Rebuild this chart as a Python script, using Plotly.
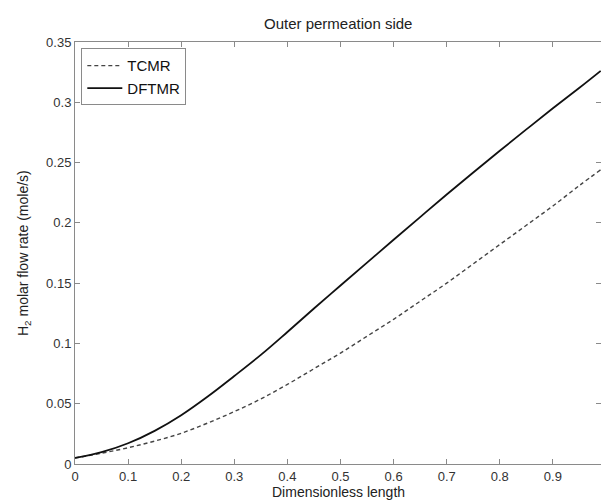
import plotly.graph_objects as go

x_vals = [0, 0.05, 0.1, 0.15, 0.2, 0.25, 0.3, 0.35, 0.4, 0.45, 0.5, 0.55, 0.6, 0.65, 0.7, 0.75, 0.8, 0.85, 0.9, 0.95, 0.99]
tcmr = [0.005, 0.009, 0.0135, 0.019, 0.0255, 0.034, 0.0435, 0.054, 0.066, 0.079, 0.092, 0.106, 0.120, 0.135, 0.150, 0.166, 0.182, 0.198, 0.214, 0.231, 0.244]
dftmr = [0.005, 0.0098, 0.0172, 0.0275, 0.0405, 0.056, 0.073, 0.0905, 0.1095, 0.129, 0.148, 0.167, 0.186, 0.2048, 0.2235, 0.2418, 0.2598, 0.2775, 0.295, 0.312, 0.326]

x_ticks = [0, 0.1, 0.2, 0.3, 0.4, 0.5, 0.6, 0.7, 0.8, 0.9]
x_tick_text = ["0", "0.1", "0.2", "0.3", "0.4", "0.5", "0.6", "0.7", "0.8", "0.9"]
y_ticks = [0, 0.05, 0.1, 0.15, 0.2, 0.25, 0.3, 0.35]
y_tick_text = ["0", "0.05", "0.1", "0.15", "0.2", "0.25", "0.3", "0.35"]

W, H = 601, 501
L, R, T, B = 75, 0, 42, 37

fig = go.Figure()
fig.add_trace(go.Scatter(x=x_vals, y=tcmr, mode="lines", name="TCMR",
                         line=dict(color="#444444", width=1.4, dash="4px,3px", shape="spline")))
fig.add_trace(go.Scatter(x=x_vals, y=dftmr, mode="lines", name="DFTMR",
                         line=dict(color="#111111", width=1.8, shape="spline")))

axis_common = dict(showgrid=False, zeroline=False, showline=True, linecolor="#8a8a8a",
                   linewidth=1, mirror="ticks", ticks="inside", ticklen=5, tickcolor="#8a8a8a",
                   tickfont=dict(family="Liberation Sans, Arial", size=13, color="#333333"))

fig.update_layout(
    width=W, height=H,
    margin=dict(l=L, r=R, t=T, b=B),
    paper_bgcolor="white", plot_bgcolor="white",
    font=dict(family="Liberation Sans, Arial", size=12, color="#222222"),
    xaxis=dict(range=[0, 0.9906], tickvals=x_ticks, ticktext=x_tick_text, **axis_common),
    yaxis=dict(range=[0, 0.35], tickvals=y_ticks, ticktext=y_tick_text, **axis_common),
    showlegend=True,
    legend=dict(x=0.012, y=0.985, xanchor="left", yanchor="top",
                bgcolor="white", bordercolor="#8a8a8a", borderwidth=1,
                font=dict(family="Liberation Sans, Arial", size=15, color="#111111"),
                itemwidth=35, tracegroupgap=0),
)

fig.add_annotation(text="Outer permeation side", xref="paper", yref="paper",
                   x=0.5, y=1 + (T - 24) / (H - T - B), xanchor="center", yanchor="middle",
                   showarrow=False, font=dict(size=15, color="#222222"))
fig.add_annotation(text="Dimensionless length", xref="paper", yref="paper",
                   x=0.5, y=-(492 - (H - B)) / (H - T - B), xanchor="center", yanchor="middle",
                   showarrow=False, font=dict(size=14, color="#222222"))
fig.add_annotation(text="H<sub>2</sub> molar flow rate (mole/s)", xref="paper", yref="paper",
                   x=-(L - 24) / (W - L - R), y=0.5, xanchor="center", yanchor="middle",
                   textangle=-90, showarrow=False, font=dict(size=14, color="#222222"))

fig.write_html("out.html")
